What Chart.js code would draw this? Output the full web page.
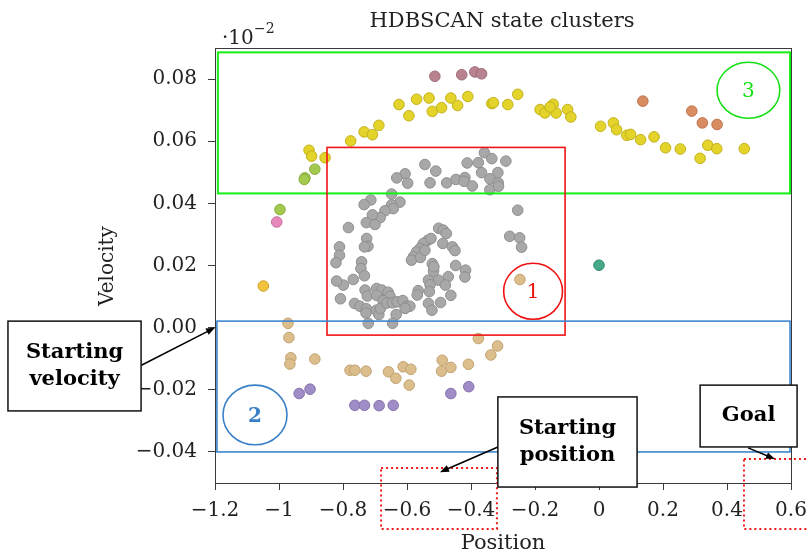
<!DOCTYPE html>
<html>
<head>
<meta charset="utf-8">
<title>HDBSCAN state clusters</title>
<script src="https://cdn.jsdelivr.net/npm/chart.js@4.4.1/dist/chart.umd.min.js"></script>
<style>
  html, body { margin: 0; padding: 0; background: #fff; }
  #wrap { position: relative; width: 807px; height: 552px; }
</style>
</head>
<body>
<div id="wrap"><canvas id="scatterChart"></canvas></div>
<script>
// mountain car states (position, velocity) grouped by HDBSCAN cluster
const grayPts = [
  [-0.358,0.0563],[-0.335,0.0544],[-0.291,0.0536],[-0.544,0.0525],[-0.510,0.0504],
  [-0.412,0.0530],[-0.377,0.0531],[-0.367,0.0499],[-0.316,0.0499],[-0.606,0.0495],
  [-0.632,0.0482],[-0.598,0.0465],[-0.528,0.0466],[-0.476,0.0466],[-0.447,0.0477],
  [-0.419,0.0483],[-0.422,0.0471],[-0.396,0.0456],[-0.341,0.0479],[-0.315,0.0466],
  [-0.341,0.0444],[-0.314,0.0455],[-0.648,0.0430],[-0.622,0.0404],[-0.648,0.0395],
  [-0.643,0.0383],[-0.713,0.0411],[-0.734,0.0396],[-0.669,0.0376],[-0.684,0.0354],
  [-0.708,0.0363],[-0.727,0.0338],[-0.700,0.0332],[-0.783,0.0322],[-0.501,0.0320],
  [-0.487,0.0314],[-0.477,0.0303],[-0.254,0.0378],[-0.279,0.0294],[-0.248,0.0289],
  [-0.242,0.0259],[-0.726,0.0287],[-0.722,0.0262],[-0.733,0.0260],[-0.811,0.0260],
  [-0.811,0.0233],[-0.822,0.0209],[-0.535,0.0281],[-0.549,0.0271],[-0.559,0.0255],
  [-0.570,0.0244],[-0.580,0.0228],[-0.586,0.0217],[-0.558,0.0226],[-0.544,0.0249],
  [-0.525,0.0287],[-0.488,0.0271],[-0.458,0.0260],[-0.450,0.0248],[-0.742,0.0212],
  [-0.744,0.0190],[-0.733,0.0167],[-0.768,0.0155],[-0.799,0.0137],[-0.820,0.0150],
  [-0.808,0.0093],[-0.521,0.0206],[-0.517,0.0182],[-0.516,0.0196],[-0.448,0.0200],
  [-0.417,0.0185],[-0.419,0.0163],[-0.471,0.0164],[-0.502,0.0153],[-0.533,0.0153],
  [-0.528,0.0138],[-0.530,0.0116],[-0.480,0.0137],[-0.565,0.0119],[-0.568,0.0105],
  [-0.463,0.0104],[-0.495,0.0081],[-0.533,0.0078],[-0.522,0.0056],[-0.731,0.0121],
  [-0.724,0.0102],[-0.695,0.0126],[-0.679,0.0121],[-0.659,0.0114],[-0.653,0.0101],
  [-0.695,0.0104],[-0.675,0.0087],[-0.764,0.0078],[-0.747,0.0069],[-0.727,0.0061],
  [-0.728,0.0047],[-0.696,0.0056],[-0.688,0.0042],[-0.683,0.0062],[-0.663,0.0079],
  [-0.645,0.0080],[-0.631,0.0083],[-0.613,0.0087],[-0.602,0.0068],[-0.591,0.0069],
  [-0.606,0.0062],[-0.634,0.0042],[-0.645,0.0014],[-0.721,0.0014]
];
const yellowPts = [
  [-0.625,0.0718],[-0.594,0.0682],[-0.570,0.0735],[-0.531,0.0739],[-0.521,0.0696],
  [-0.492,0.0708],[-0.463,0.0739],[-0.442,0.0715],[-0.410,0.0744],[-0.335,0.0721],
  [-0.330,0.0724],[-0.285,0.0718],[-0.688,0.0651],[-0.734,0.0630],[-0.708,0.0621],
  [-0.776,0.0601],[-0.906,0.0571],[-0.898,0.0552],[-0.856,0.0547],[-0.254,0.0751],
  [-0.184,0.0702],[-0.169,0.0691],[-0.143,0.0719],[-0.134,0.0691],[-0.153,0.0710],
  [-0.098,0.0702],[-0.088,0.0678],[0.005,0.0648],[0.045,0.0659],[0.055,0.0637],
  [0.087,0.0619],[0.099,0.0622],[0.130,0.0605],[0.172,0.0614],[0.208,0.0579],
  [0.254,0.0575],[0.316,0.0545],[0.340,0.0587],[0.368,0.0576],[0.454,0.0576]
];
const mauvePts = [[-0.513,0.0809],[-0.429,0.0814],[-0.388,0.0823],[-0.367,0.0817]];
const orangePts = [[0.137,0.0729],[0.290,0.0697],[0.323,0.0659],[0.369,0.0654]];
const greenPts = [[-0.888,0.0510],[-0.919,0.0482],[-0.921,0.0477],[-0.997,0.0380]];
const pinkPts = [[-1.007,0.0340]];
const goldPts = [[-1.049,0.0134]];
const tealPts = [[0.0,0.0201]];
const tanPts = [
  [-0.972,0.0014],[-0.969,-0.0032],[-0.963,-0.0097],[-0.966,-0.0117],[-0.888,-0.0101],
  [-0.778,-0.0137],[-0.763,-0.0137],[-0.728,-0.0140],[-0.658,-0.0142],[-0.635,-0.0163],
  [-0.612,-0.0126],[-0.588,-0.0134],[-0.593,-0.0185],[-0.490,-0.0105],[-0.492,-0.0140],
  [-0.463,-0.0128],[-0.408,-0.0118],[-0.377,-0.0035],[-0.338,-0.0088],[-0.317,-0.0059],
  [-0.247,0.0155]
];
const purplePts = [
  [-0.937,-0.0212],[-0.903,-0.0198],[-0.763,-0.0250],[-0.733,-0.0250],[-0.687,-0.0251],
  [-0.643,-0.0250],[-0.463,-0.0212],[-0.407,-0.0190]
];

const xTicks = [-1.2, -1, -0.8, -0.6, -0.4, -0.2, 0, 0.2, 0.4, 0.6];
const yTicks = [-0.04, -0.02, 0, 0.02, 0.04, 0.06, 0.08];

// cluster regions, drawn in data units
const regions = [
  { x0: -1.191, x1: 0.597, y0: 0.0432, y1: 0.0886, color: '#14f014', width: 2 },
  { x0: -0.850, x1: -0.106, y0: -0.0024, y1: 0.0580, color: '#f01414', width: 1.6 },
  { x0: -1.194, x1: 0.597, y0: -0.0400, y1: 0.0021, color: '#3c86d0', width: 1.6 }
];
const rings = [
  { cx: -0.206, cy: 0.0117, rx: 0.092, ry: 0.0090, color: '#ee1111', label: '1', bold: false },
  { cx: -1.075, cy: -0.0281, rx: 0.100, ry: 0.0096, color: '#3a80c8', label: '2', bold: true },
  { cx: 0.467, cy: 0.0764, rx: 0.098, ry: 0.0090, color: '#14e014', label: '3', bold: false }
];
const dottedBoxes = [
  { x0: -0.681, x1: -0.319, y0: -0.0648, y1: -0.0452 },
  { x0: 0.453, x1: 0.660, y0: -0.0648, y1: -0.0423 }
];
const callouts = [
  { lines: ['Starting', 'velocity'], x0: -1.847, x1: -1.431, y0: -0.0268, y1: 0.0021,
    from: [-1.430, -0.0121], to: [-1.2, 0.0] },
  { lines: ['Starting', 'position'], x0: -0.316, x1: 0.119, y0: -0.0513, y1: -0.0223,
    from: [-0.316, -0.0384], to: [-0.497, -0.0465] },
  { lines: ['Goal'], x0: 0.316, x1: 0.619, y0: -0.0384, y1: -0.0185,
    from: [0.466, -0.0387], to: [0.550, -0.0423] }
];

const serif = '"DejaVu Serif", "Liberation Serif", serif';
const toXY = pts => pts.map(p => ({ x: p[0], y: p[1] }));
const minus = s => s.replace('-', '\u2212');

function cluster(pts, fill, edge) {
  return {
    data: toXY(pts),
    backgroundColor: fill,
    borderColor: edge,
    borderWidth: 1,
    pointRadius: 5.3,
    pointHoverRadius: 5.3
  };
}

const overlay = {
  id: 'overlay',
  afterDatasetsDraw(chart) {
    const ctx = chart.ctx, xs = chart.scales.x, ys = chart.scales.y;
    const px = v => xs.getPixelForValue(v), py = v => ys.getPixelForValue(v);
    const a = chart.chartArea;
    ctx.save();
    // axis box
    ctx.strokeStyle = '#3a3a3a';
    ctx.lineWidth = 1;
    ctx.strokeRect(a.left + 0.5, a.top + 0.5, a.right - a.left, a.bottom - a.top);

    regions.forEach(r => {
      ctx.strokeStyle = r.color;
      ctx.lineWidth = r.width;
      ctx.strokeRect(px(r.x0), py(r.y1), px(r.x1) - px(r.x0), py(r.y0) - py(r.y1));
    });
    rings.forEach(c => {
      const cx = px(c.cx), cy = py(c.cy);
      ctx.strokeStyle = c.color;
      ctx.lineWidth = 1.6;
      ctx.beginPath();
      ctx.ellipse(cx, cy, px(c.cx + c.rx) - cx, cy - py(c.cy + c.ry), 0, 0, Math.PI * 2);
      ctx.stroke();
      ctx.fillStyle = c.color;
      ctx.font = (c.bold ? 'bold ' : '') + '20px ' + serif;
      ctx.textAlign = 'center';
      ctx.textBaseline = 'middle';
      ctx.fillText(c.label, cx, cy + 2);
    });
    ctx.restore();
  },
  afterDraw(chart) {
    const ctx = chart.ctx, xs = chart.scales.x, ys = chart.scales.y;
    const px = v => xs.getPixelForValue(v), py = v => ys.getPixelForValue(v);
    ctx.save();
    ctx.fillStyle = '#222';
    ctx.textAlign = 'center';
    ctx.textBaseline = 'alphabetic';
    ctx.font = '21px ' + serif;
    ctx.fillText('HDBSCAN state clusters', 502, 27);
    ctx.fillText('Position', 503, 549);

    // axis multiplier
    ctx.font = '20px ' + serif;
    ctx.textAlign = 'left';
    ctx.fillText('\u00b710', 222, 44);
    ctx.font = '14px ' + serif;
    ctx.fillText('\u22122', 254, 33);

    ctx.save();
    ctx.translate(113, 266);
    ctx.rotate(-Math.PI / 2);
    ctx.textAlign = 'center';
    ctx.font = '20px ' + serif;
    ctx.fillText('Velocity', 0, 0);
    ctx.restore();

    // dotted markers for start and goal positions
    ctx.strokeStyle = '#f01818';
    ctx.lineWidth = 2;
    ctx.setLineDash([2, 3]);
    dottedBoxes.forEach(b => {
      ctx.strokeRect(px(b.x0), py(b.y1), px(b.x1) - px(b.x0), py(b.y0) - py(b.y1));
    });
    ctx.setLineDash([]);

    callouts.forEach(c => {
      const x0 = px(c.x0), x1 = px(c.x1), y0 = py(c.y1), y1 = py(c.y0);
      ctx.fillStyle = '#fff';
      ctx.fillRect(x0, y0, x1 - x0, y1 - y0);
      ctx.strokeStyle = '#111';
      ctx.lineWidth = 1.5;
      ctx.strokeRect(x0, y0, x1 - x0, y1 - y0);
      ctx.fillStyle = '#000';
      ctx.font = 'bold 21px ' + serif;
      ctx.textAlign = 'center';
      ctx.textBaseline = 'middle';
      const mid = (y0 + y1) / 2, step = 27;
      c.lines.forEach((t, i) => {
        ctx.fillText(t, (x0 + x1) / 2, mid + (i - (c.lines.length - 1) / 2) * step);
      });
      // arrow
      const fx = px(c.from[0]), fy = py(c.from[1]), tx = px(c.to[0]), ty = py(c.to[1]);
      const ang = Math.atan2(ty - fy, tx - fx);
      ctx.strokeStyle = '#000';
      ctx.lineWidth = 1.5;
      ctx.beginPath();
      ctx.moveTo(fx, fy);
      ctx.lineTo(tx - 6 * Math.cos(ang), ty - 6 * Math.sin(ang));
      ctx.stroke();
      ctx.beginPath();
      ctx.moveTo(tx, ty);
      ctx.lineTo(tx - 9 * Math.cos(ang) + 3.5 * Math.sin(ang), ty - 9 * Math.sin(ang) - 3.5 * Math.cos(ang));
      ctx.lineTo(tx - 9 * Math.cos(ang) - 3.5 * Math.sin(ang), ty - 9 * Math.sin(ang) + 3.5 * Math.cos(ang));
      ctx.closePath();
      ctx.fillStyle = '#000';
      ctx.fill();
    });
    ctx.restore();
  }
};

new Chart(document.getElementById('scatterChart'), {
  type: 'scatter',
  data: {
    datasets: [
      cluster(grayPts, '#a8a8a8', '#8e8e8e'),
      cluster(yellowPts, '#e3d32a', '#c2b21c'),
      cluster(mauvePts, '#b8828f', '#9c6c78'),
      cluster(orangePts, '#d98c62', '#bb744e'),
      cluster(greenPts, '#a3c94e', '#88ad3c'),
      cluster(pinkPts, '#e688bc', '#c86ea0'),
      cluster(goldPts, '#f0c23e', '#d0a42c'),
      cluster(tealPts, '#45a98a', '#338a70'),
      cluster(tanPts, '#dcbd8c', '#c0a272'),
      cluster(purplePts, '#a08cc6', '#8672ac')
    ]
  },
  options: {
    responsive: true,
    maintainAspectRatio: false,
    animation: false,
    devicePixelRatio: 1,
    layout: { padding: { top: 48, right: 16, left: 0, bottom: 0 } },
    plugins: { legend: { display: false }, tooltip: { enabled: false } },
    scales: {
      x: {
        type: 'linear',
        min: -1.2,
        max: 0.6,
        afterBuildTicks: s => { s.ticks = xTicks.map(v => ({ value: v })); },
        afterFit: s => { s.height = 69; s.paddingLeft = 0; s.paddingRight = 0; },
        ticks: {
          callback: v => minus(String(Math.round(v * 10) / 10)),
          font: { family: serif, size: 20 },
          color: '#222',
          padding: 9,
          maxRotation: 0,
          autoSkip: false
        },
        grid: { drawOnChartArea: false, drawTicks: true, tickLength: 7, color: '#3a3a3a' },
        border: { display: true, color: '#3a3a3a', width: 1 }
      },
      y: {
        type: 'linear',
        min: -0.05,
        max: 0.09,
        afterBuildTicks: s => { s.ticks = yTicks.map(v => ({ value: v })); },
        afterFit: s => { s.width = 215; s.paddingTop = 0; s.paddingBottom = 0; },
        ticks: {
          callback: v => minus(v.toFixed(2)),
          font: { family: serif, size: 20 },
          color: '#222',
          padding: 11,
          autoSkip: false
        },
        grid: { drawOnChartArea: false, drawTicks: true, tickLength: 7, color: '#3a3a3a' },
        border: { display: true, color: '#3a3a3a', width: 1 }
      }
    }
  },
  plugins: [overlay]
});
</script>
</body>
</html>
